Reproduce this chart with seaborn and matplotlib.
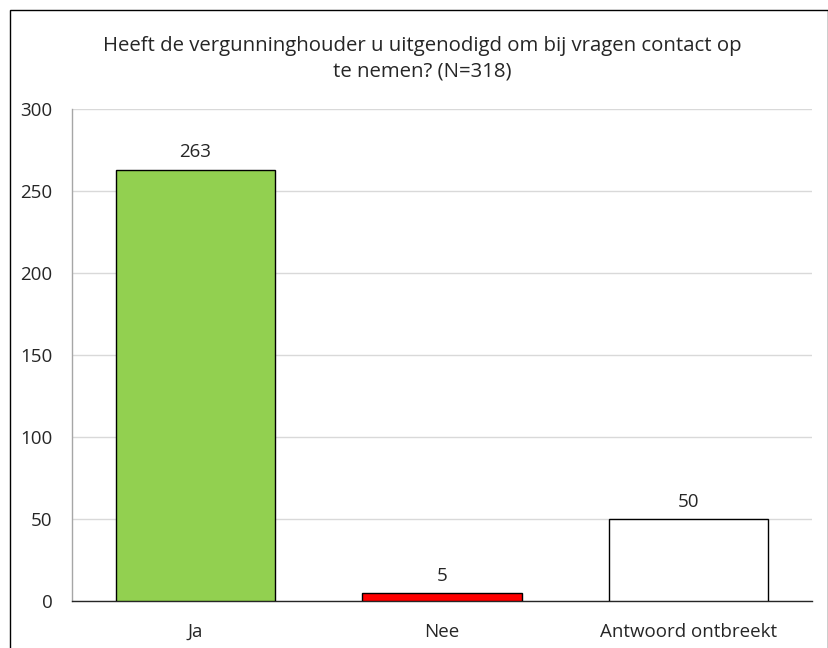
import matplotlib
matplotlib.use("Agg")
import matplotlib.pyplot as plt
import matplotlib.patches as mpatches
import pandas as pd
import seaborn as sns

categorieen = ["Ja", "Nee", "Antwoord ontbreekt"]
aantallen = [263, 5, 50]
kleuren = ["#92d050", "#ff0000", "#ffffff"]
titel = "Heeft de vergunninghouder u uitgenodigd om bij vragen contact op\nte nemen? (N=318)"

sns.set_style("white")
plt.rcParams["font.family"] = ["Open Sans", "DejaVu Sans"]

df = pd.DataFrame({"categorie": categorieen, "aantal": aantallen})

fig = plt.figure(figsize=(8.29, 6.48), dpi=100)
ax = fig.add_axes([0.0869, 0.0725, 0.8926, 0.7593])

sns.barplot(data=df, x="categorie", y="aantal", hue="categorie",
            palette=kleuren, saturation=1, legend=False, width=0.645,
            edgecolor="black", linewidth=1.0, ax=ax, zorder=3)

# waarden boven de staven
for i, v in enumerate(aantallen):
    ax.text(i, v + 5, str(v), ha="center", va="bottom", fontsize=13.5, color="#262626")

ax.set_ylim(0, 300)
ax.set_yticks(range(0, 301, 50))
ax.set_xlim(-0.5, 2.5)
ax.grid(axis="y", color="#d9d9d9", linewidth=1.0, zorder=0)
ax.set_axisbelow(True)
ax.set_xlabel("")
ax.set_ylabel("")
for s in ["top", "right"]:
    ax.spines[s].set_visible(False)
ax.spines["left"].set_color("#a6a6a6")
ax.spines["left"].set_linewidth(1.0)
ax.spines["bottom"].set_color("#262626")
ax.spines["bottom"].set_linewidth(1.0)
ax.tick_params(axis="both", length=0, labelsize=13.5, labelcolor="#262626")
ax.tick_params(axis="x", pad=16)
ax.tick_params(axis="y", pad=14)

fig.text(0.509, 0.909, titel, ha="center", va="center", fontsize=14.7,
         color="#262626", linespacing=1.4)

# rand rond de figuur
rand = mpatches.Rectangle((0.012, -0.05), 0.9865, 1.035, transform=fig.transFigure,
                          fill=False, edgecolor="black", linewidth=1.0)
fig.patches.append(rand)

fig.savefig("out.png", dpi=100)
